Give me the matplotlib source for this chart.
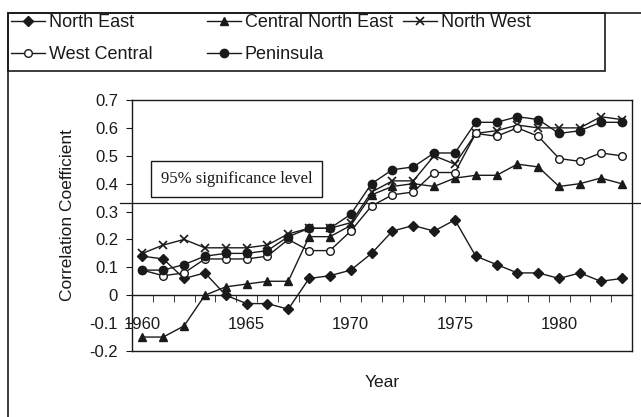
import numpy as np
import matplotlib.pyplot as plt
from matplotlib.patches import Rectangle
from matplotlib.ticker import FixedLocator, FuncFormatter

plt.rcParams['font.family'] = ['Liberation Sans', 'DejaVu Sans']
plt.rcParams['axes.unicode_minus'] = False

years = list(range(1960, 1984))
north_east = [0.14, 0.13, 0.06, 0.08, 0.00, -0.03, -0.03, -0.05, 0.06, 0.07, 0.09, 0.15,
              0.23, 0.25, 0.23, 0.27, 0.14, 0.11, 0.08, 0.08, 0.06, 0.08, 0.05, 0.06]
central_north_east = [-0.15, -0.15, -0.11, 0.00, 0.03, 0.04, 0.05, 0.05, 0.21, 0.21, 0.25, 0.36,
                      0.39, 0.40, 0.39, 0.42, 0.43, 0.43, 0.47, 0.46, 0.39, 0.40, 0.42, 0.40]
north_west = [0.15, 0.18, 0.20, 0.17, 0.17, 0.17, 0.18, 0.22, 0.24, 0.24, 0.26, 0.37,
              0.41, 0.41, 0.50, 0.47, 0.58, 0.59, 0.61, 0.60, 0.60, 0.60, 0.64, 0.63]
west_central = [0.09, 0.07, 0.08, 0.13, 0.13, 0.13, 0.14, 0.20, 0.16, 0.16, 0.23, 0.32,
                0.36, 0.37, 0.44, 0.44, 0.58, 0.57, 0.60, 0.57, 0.49, 0.48, 0.51, 0.50]
peninsula = [0.09, 0.09, 0.11, 0.14, 0.15, 0.15, 0.16, 0.21, 0.24, 0.24, 0.29, 0.40,
             0.45, 0.46, 0.51, 0.51, 0.62, 0.62, 0.64, 0.63, 0.58, 0.59, 0.62, 0.62]
names = ['North East', 'Central North East', 'North West', 'West Central', 'Peninsula']
sig_level = 0.33
year_ticks = [1960, 1965, 1970, 1975, 1980]
y_ticks = [-0.2, -0.1, 0, 0.1, 0.2, 0.3, 0.4, 0.5, 0.6, 0.7]

ink = '#1a1a1a'
W, H = 641, 417
fig = plt.figure(figsize=(W / 100, H / 100), dpi=100)
ax = fig.add_axes([132 / W, 1 - 351 / H, 500 / W, 251 / H])

styles = [dict(marker='D', ms=5, mfc=ink),
          dict(marker='^', ms=6, mfc=ink),
          dict(marker='x', ms=6, mew=1.2),
          dict(marker='o', ms=5.5, mfc='white', mew=1),
          dict(marker='o', ms=6, mfc=ink)]
series = [north_east, central_north_east, north_west, west_central, peninsula]
lines = []
for vals, st, nm in zip(series, styles, names):
    ln, = ax.plot(years, vals, color=ink, mec=ink, lw=1, label=nm, clip_on=False, **st)
    lines.append(ln)

ax.set_xlim(1959.5, 1983.5)
ax.set_ylim(-0.2, 0.7)

# x axis sits on zero, ticks between categories
ax.spines['bottom'].set_position(('data', 0))
for s in ax.spines.values():
    s.set_color(ink)
    s.set_linewidth(1)
ax.plot([0, 1], [0, 0], transform=ax.transAxes, color=ink, lw=1, clip_on=False)

ax.xaxis.set_major_locator(FixedLocator(year_ticks))
ax.xaxis.set_minor_locator(FixedLocator(np.arange(1959.5, 1984, 1)))
ax.tick_params(axis='x', which='major', length=0, pad=16, labelsize=12, labelcolor=ink)
ax.tick_params(axis='x', which='minor', length=5, direction='out', color=ink)
ax.yaxis.set_major_locator(FixedLocator(y_ticks))
ax.yaxis.set_major_formatter(FuncFormatter(lambda v, p: f"{round(v, 1):g}"))
ax.tick_params(axis='y', length=4, direction='out', pad=6, labelsize=12, labelcolor=ink, color=ink)

ax.set_ylabel('Correlation Coefficient', fontsize=12.5, color=ink)
ax.yaxis.set_label_coords(-0.13, 0.54)
ax.yaxis.label.set_va('center')
ax.set_xlabel('Year', fontsize=12.5, color=ink)
ax.xaxis.set_label_coords(0.5, -0.124)
ax.xaxis.label.set_va('center')

# significance line
ax.plot([-0.024, 1.02], [sig_level, sig_level], transform=ax.get_yaxis_transform(),
        color=ink, lw=0.9, clip_on=False)
ax.text(0.209, 0.687, '95% significance level', transform=ax.transAxes,
        family='Liberation Serif', fontsize=12, color=ink, ha='center', va='center',
        bbox=dict(boxstyle='square,pad=0.6', fc='white', ec=ink, lw=1))

# outer frame and legend frame
fig.patches.append(Rectangle((8 / W, -0.1), 1.2, 1 - 13 / H + 0.1, transform=fig.transFigure,
                             fill=False, ec=ink, lw=1.2))
fig.patches.append(Rectangle((8 / W, 1 - 71 / H), (605 - 8) / W, (71 - 13) / H,
                             transform=fig.transFigure, fill=False, ec=ink, lw=1.2))

cols = [([0, 3], 11), ([1, 4], 207), ([2], 403)]
for idx, x0 in cols:
    fig.legend([lines[i] for i in idx], [names[i] for i in idx], loc='upper left',
               bbox_to_anchor=(x0 / W, 1 - 14 / H), frameon=False, borderpad=0,
               borderaxespad=0, handlelength=1.9, handletextpad=0.2, labelspacing=0.85,
               fontsize=13, labelcolor=ink)

fig.savefig('out.png', dpi=100)
